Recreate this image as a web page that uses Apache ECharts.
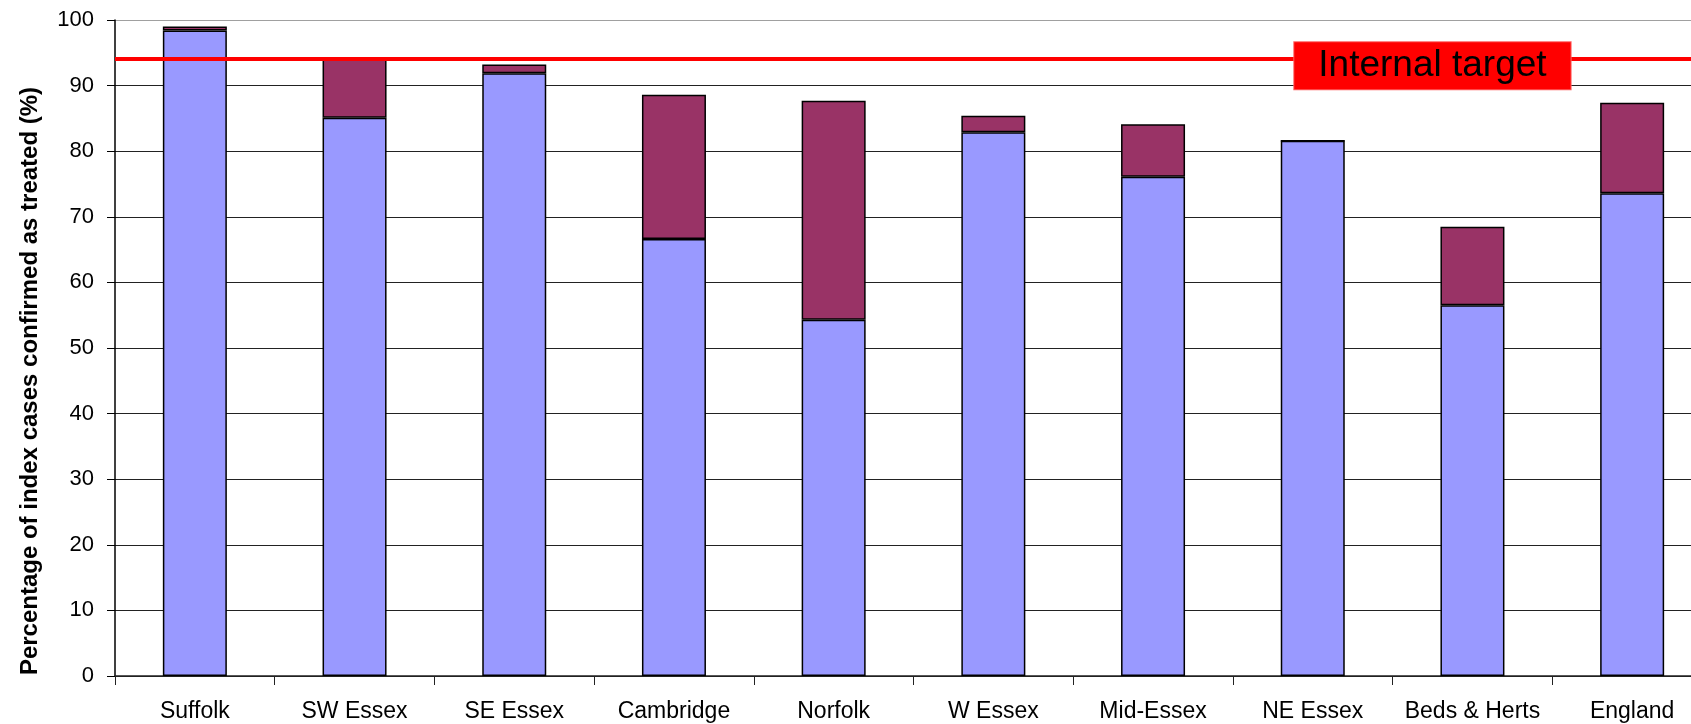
<!DOCTYPE html>
<html>
<head>
<meta charset="utf-8">
<script src="https://cdn.jsdelivr.net/npm/echarts@6/dist/echarts.min.js"></script>
<style>
  html, body { margin: 0; padding: 0; background: #ffffff; }
  #chart { width: 1691px; height: 724px; }
</style>
</head>
<body>
<div id="chart"></div>
<script>
const categories = ['Suffolk', 'SW Essex', 'SE Essex', 'Cambridge', 'Norfolk', 'W Essex', 'Mid-Essex', 'NE Essex', 'Beds & Herts', 'England'];
const confirmedTreated = [98.4, 85.1, 91.9, 66.6, 54.3, 82.9, 76.1, 81.6, 56.5, 73.6];
const additionalTreated = [0.6, 9.0, 1.3, 22.0, 33.4, 2.5, 8.0, 0, 12.0, 13.8];
const targetValue = 94.1;
const targetLabel = 'Internal target';
const targetLabelCategory = 'Beds & Herts';
const yTicks = [0, 10, 20, 30, 40, 50, 60, 70, 80, 90, 100];
const yTitle = 'Percentage of index cases confirmed as treated (%)';

const gridColors = yTicks.map((v, i) => i === yTicks.length - 1 ? '#a0a0a0' : '#222222');

const chart = echarts.init(document.getElementById('chart'), null, { renderer: 'canvas' });
chart.setOption({
  animation: false,
  backgroundColor: '#ffffff',
  textStyle: { fontFamily: 'Liberation Sans, Arial, sans-serif' },
  grid: { left: 115, width: 1597, top: 20, bottom: 48, containLabel: false, outerBoundsMode: 'none' },
  xAxis: {
    type: 'category',
    data: categories,
    boundaryGap: true,
    axisLine: { show: true, lineStyle: { color: '#222222', width: 1.5 } },
    axisTick: { show: true, alignWithLabel: false, length: 9, lineStyle: { color: '#222222', width: 1 } },
    axisLabel: { color: '#000000', fontSize: 23, margin: 24, interval: 0, lineHeight: 23 },
    splitLine: { show: false }
  },
  yAxis: {
    type: 'value',
    min: yTicks[0],
    max: yTicks[yTicks.length - 1],
    interval: yTicks[1] - yTicks[0],
    name: yTitle,
    nameLocation: 'middle',
    nameRotate: 90,
    nameGap: 73,
    nameTextStyle: { color: '#000000', fontSize: 24, fontWeight: 'bold', padding: [0, 66, 0, 0] },
    axisLine: { show: true, lineStyle: { color: '#000000', width: 1.5 } },
    axisTick: { show: true, inside: false, length: 8, lineStyle: { color: '#000000', width: 1 } },
    axisLabel: { color: '#000000', fontSize: 22, margin: 21 },
    splitLine: { show: true, lineStyle: { color: gridColors, width: 1.2 } }
  },
  series: [
    {
      name: 'Confirmed treated',
      type: 'bar',
      stack: 'total',
      data: confirmedTreated,
      barWidth: 64,
      itemStyle: { color: '#9999FF', borderColor: '#000000', borderWidth: 1.5 }
    },
    {
      name: 'Additional treated',
      type: 'bar',
      stack: 'total',
      data: additionalTreated,
      barWidth: 64,
      itemStyle: { color: '#993366', borderColor: '#000000', borderWidth: 1.5 },
      markLine: {
        silent: true,
        symbol: 'none',
        lineStyle: { color: '#FF0000', width: 4, type: 'solid' },
        label: { show: false },
        data: [{ yAxis: targetValue }]
      },
      markPoint: {
        silent: true,
        symbol: 'rect',
        symbolSize: 0,
        data: [{ coord: [targetLabelCategory, targetValue], value: targetLabel }],
        label: {
          show: true,
          position: 'inside',
          formatter: targetLabel,
          color: '#000000',
          fontSize: 37,
          lineHeight: 37,
          backgroundColor: '#FF0000',
          borderColor: '#FF6060',
          borderWidth: 1,
          padding: [7, 24, 3, 24],
          offset: [-40, 7]
        }
      }
    }
  ]
});
</script>
</body>
</html>
